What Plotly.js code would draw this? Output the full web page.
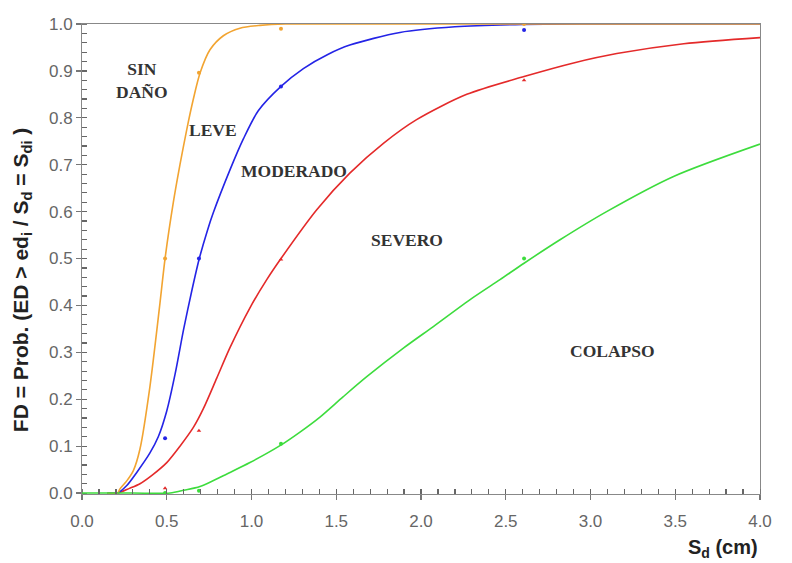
<!DOCTYPE html>
<html>
<head>
<meta charset="utf-8">
<script src="https://cdn.plot.ly/plotly-3.0.1.min.js"></script>
<style>html,body{margin:0;padding:0;background:#fff;}#chart{width:792px;height:563px;}</style>
</head>
<body>
<div id="chart"></div>
<script>
// Fitted fragility curves
const leveX = [0.15, 0.21, 0.224, 0.264, 0.303, 0.342, 0.40, 0.46, 0.49, 0.539, 0.578, 0.618, 0.657, 0.696, 0.755, 0.834, 0.932, 1.05, 1.2, 1.5, 2.0, 2.6, 3.2, 4.0];
const leveY = [0, 0, 0.009, 0.026, 0.048, 0.094, 0.225, 0.405, 0.5, 0.62, 0.70, 0.775, 0.84, 0.895, 0.945, 0.975, 0.991, 0.997, 1.0, 1.0, 1.0, 1.0, 1.0, 1.0];

const modX = [0.15, 0.21, 0.264, 0.323, 0.40, 0.45, 0.50, 0.55, 0.60, 0.65, 0.692, 0.74, 0.775, 0.873, 0.952, 1.04, 1.174, 1.306, 1.45, 1.58, 1.876, 2.2, 2.6, 3.0, 3.5, 4.0];
const modY = [0, 0, 0.016, 0.044, 0.085, 0.12, 0.175, 0.255, 0.35, 0.435, 0.5, 0.56, 0.598, 0.689, 0.755, 0.815, 0.867, 0.905, 0.935, 0.955, 0.982, 0.994, 0.999, 1.0, 1.0, 1.0];

const sevX = [0.15, 0.21, 0.28, 0.342, 0.42, 0.50, 0.578, 0.657, 0.716, 0.795, 0.873, 0.991, 1.09, 1.174, 1.385, 1.58, 1.78, 1.974, 2.27, 2.608, 2.9, 3.155, 3.55, 4.0];
const sevY = [0, 0, 0.01, 0.02, 0.04, 0.065, 0.10, 0.14, 0.18, 0.245, 0.31, 0.395, 0.455, 0.5, 0.604, 0.682, 0.746, 0.796, 0.85, 0.888, 0.917, 0.937, 0.958, 0.971];

const colX = [0, 0.3, 0.52, 0.60, 0.696, 0.873, 0.991, 1.168, 1.286, 1.404, 1.54, 1.68, 1.9, 2.073, 2.3, 2.466, 2.608, 2.82, 3.095, 3.49, 4.0];
const colY = [0, 0, 0, 0.006, 0.014, 0.044, 0.065, 0.101, 0.13, 0.162, 0.205, 0.248, 0.31, 0.355, 0.415, 0.455, 0.49, 0.54, 0.60, 0.675, 0.744];

// Observed points
const ptX = [0.49, 0.69, 1.174, 2.608];
const ptLeve = [0.5, 0.896, 0.99, 1.0];
const ptMod = [0.117, 0.5, 0.867, 0.987];
const ptSev = [0.01, 0.133, 0.498, 0.88];
const ptCol = [0.0, 0.005, 0.105, 0.5];

// State labels
const stateNames = ["SIN<br>DAÑO", "LEVE", "MODERADO", "SEVERO", "COLAPSO"];
const stateX = [0.354, 0.773, 1.25, 1.92, 3.13];
const stateY = [0.88, 0.774, 0.687, 0.54, 0.302];

const xRange = [0, 4];
const yRange = [-0.002, 1];

const cOr = '#f2a431', cBl = '#2424e6', cRd = '#e42a2a', cGr = '#3ddc3d';

function line(x, y, c) {
  return {x: x, y: y, mode: 'lines', type: 'scatter', line: {color: c, width: 1.6, shape: 'spline', smoothing: 0.8}, hoverinfo: 'skip', showlegend: false};
}
function pts(y, c, sym) {
  return {x: ptX, y: y, xaxis: 'x2', yaxis: 'y2', mode: 'markers', type: 'scatter', marker: {color: c, size: 4, symbol: sym}, showlegend: false};
}

const traces = [
  line(sevX, sevY, cRd),
  line(modX, modY, cBl),
  line(leveX, leveY, cOr),
  line(colX, colY, cGr),
  pts(ptCol, cGr, 'circle'),
  pts(ptSev, cRd, 'triangle-up'),
  pts(ptMod, cBl, 'circle'),
  pts(ptLeve, cOr, 'circle')
];

const annots = stateNames.map((t, i) => ({
  x: stateX[i], y: stateY[i], xref: 'x', yref: 'y', text: '<b>' + t + '</b>', showarrow: false,
  font: {family: 'Liberation Serif, Times New Roman, serif', size: 17.5, color: '#333'}, align: 'center'
}));
annots.push({
  xref: 'paper', yref: 'paper', x: 1, y: 0, xanchor: 'right', yanchor: 'top', yshift: -40,
  text: '<b>S<sub>d</sub> (cm)</b>', showarrow: false,
  font: {family: 'Liberation Sans, Arial, sans-serif', size: 20, color: '#222'}
});
annots.push({
  xref: 'paper', yref: 'paper', x: -0.0885, y: 0.455, xanchor: 'center', yanchor: 'middle', textangle: -90,
  text: '<b>FD = Prob. (ED > ed<sub>i</sub> / S<sub>d</sub> = S<sub>di</sub> )</b>', showarrow: false,
  font: {family: 'Liberation Sans, Arial, sans-serif', size: 21, color: '#222'}
});

const layout = {
  width: 792, height: 563,
  margin: {l: 82, r: 32, t: 24, b: 69},
  paper_bgcolor: '#fff', plot_bgcolor: '#fff',
  showlegend: false,
  font: {family: 'Liberation Sans, Arial, sans-serif', color: '#666', size: 17},
  xaxis: {
    range: xRange, tickmode: 'linear', tick0: 0, dtick: 0.5, tickformat: '.1f',
    showgrid: false, zeroline: false, showline: true, linecolor: '#888', linewidth: 1, mirror: true,
    layer: 'below traces', ticklabelstandoff: 7,
    ticks: 'outside', ticklen: 5, tickcolor: '#777', tickwidth: 1.2,
    minor: {ticks: 'inside', dtick: 0.1, ticklen: 5, tickcolor: '#777', tickwidth: 1},
    tickfont: {size: 17, color: '#666'}
  },
  yaxis: {
    range: yRange, tickmode: 'linear', tick0: 0, dtick: 0.1, tickformat: '.1f',
    showgrid: false, zeroline: false, showline: true, linecolor: '#888', linewidth: 1, mirror: true,
    layer: 'below traces',
    ticks: 'outside', ticklen: 5, tickcolor: '#777', tickwidth: 1.2,
    minor: {ticks: 'inside', dtick: 0.02, ticklen: 5, tickcolor: '#777', tickwidth: 1},
    tickfont: {size: 17, color: '#666'}
  },
  xaxis2: {
    overlaying: 'x', anchor: 'y2', side: 'bottom', range: xRange, tickmode: 'linear', tick0: 0, dtick: 0.1,
    ticks: 'inside', ticklen: 5, tickcolor: '#666', tickwidth: 1.2, showticklabels: false, showgrid: false, zeroline: false, showline: false
  },
  yaxis2: {
    overlaying: 'y', anchor: 'x2', side: 'left', range: yRange, tickmode: 'linear', tick0: 0, dtick: 0.02,
    ticks: 'inside', ticklen: 5, tickcolor: '#666', tickwidth: 1.2, showticklabels: false, showgrid: false, zeroline: false, showline: false
  },
  annotations: annots
};

Plotly.newPlot('chart', traces, layout, {displayModeBar: false, staticPlot: true});
</script>
</body>
</html>
